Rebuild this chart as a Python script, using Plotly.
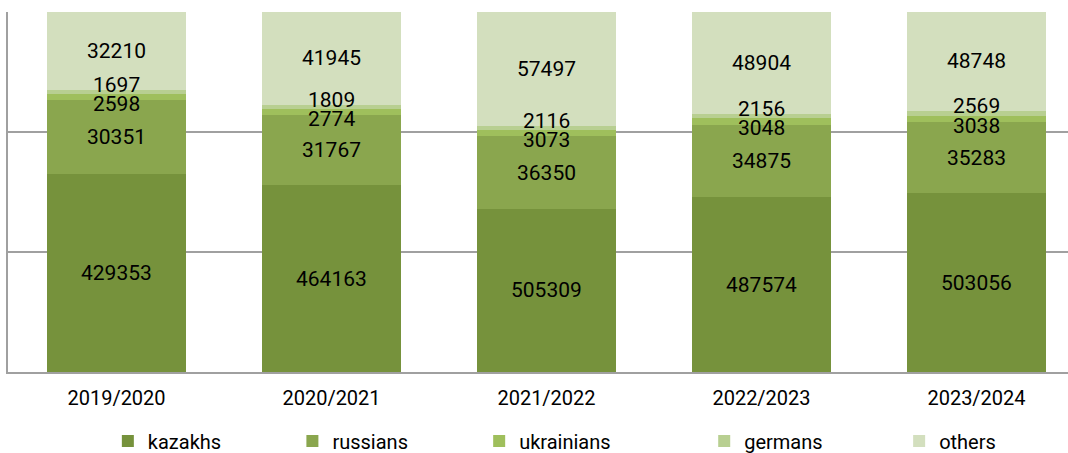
import plotly.graph_objects as go

years = ["2019/2020", "2020/2021", "2021/2022", "2022/2023", "2023/2024"]
kazakhs = [429353, 464163, 505309, 487574, 503056]
russians = [30351, 31767, 36350, 34875, 35283]
ukrainians = [2598, 2774, 3073, 3048, 3038]
germans = [1697, 1809, 2116, 2156, 2569]
others = [32210, 41945, 57497, 48904, 48748]

series = [
    ("kazakhs", kazakhs, "#76923c"),
    ("russians", russians, "#8aa64e"),
    ("ukrainians", ukrainians, "#9fbf5c"),
    ("germans", germans, "#b8cf91"),
    ("others", others, "#d3dfbe"),
]

totals = [sum(v) for v in zip(*[s[1] for s in series])]
y_min = 70

# one small legend per series so the entries sit where the reference has them
legend_x = [0.0942, 0.2683, 0.4445, 0.6568, 0.8407]
legend_ids = ["legend", "legend2", "legend3", "legend4", "legend5"]

fig = go.Figure()
for (name, vals, color), lid in zip(series, legend_ids):
    fig.add_trace(go.Bar(
        x=years, y=vals, name=name, legend=lid,
        marker=dict(color=color, line=dict(width=0)),
    ))

# value labels, placed at the middle of the visible part of each segment
shifts = {"ukrainians": -7, "germans": 7}
annotations = []
for i, year in enumerate(years):
    base = 0.0
    for name, vals, color in series:
        pct = vals[i] / totals[i] * 100
        lo = max(base, y_min)
        hi = base + pct
        annotations.append(dict(
            x=year, y=(lo + hi) / 2, text=str(vals[i]), showarrow=False,
            yshift=shifts.get(name, 0),
            font=dict(family="Roboto", size=21, color="#000000"),
        ))
        base = hi

legend_style = dict(
    orientation="h", xanchor="left", y=-0.192, yanchor="middle",
    font=dict(family="Roboto", size=20, color="#000000"),
    itemclick=False, bgcolor="rgba(0,0,0,0)",
)
legends = {lid: dict(legend_style, x=x) for lid, x in zip(legend_ids, legend_x)}

fig.update_layout(
    width=1068,
    height=453,
    barmode="stack",
    barnorm="percent",
    bargap=0.353,
    plot_bgcolor="white",
    paper_bgcolor="white",
    margin=dict(l=8, r=0, t=12, b=81, autoexpand=False),
    font=dict(family="Roboto", size=20, color="#000000"),
    annotations=annotations,
    showlegend=True,
    xaxis=dict(
        range=[-0.5047, 4.4256], showgrid=False, showline=True,
        linecolor="#a0a0a0", linewidth=2, ticks="outside", ticklen=7,
        tickcolor="rgba(0,0,0,0)", tickfont=dict(size=20),
    ),
    yaxis=dict(
        range=[70, 100], dtick=10, showticklabels=False, showgrid=True,
        gridcolor="#a0a0a0", gridwidth=2, zeroline=False,
        showline=True, linecolor="#a0a0a0", linewidth=2,
    ),
    **legends,
)

# drop the browser's default page margin so the figure fills the window
fig.write_html(
    "out.html",
    config={"displayModeBar": False},
    post_script="document.body.style.margin = '0';",
)
